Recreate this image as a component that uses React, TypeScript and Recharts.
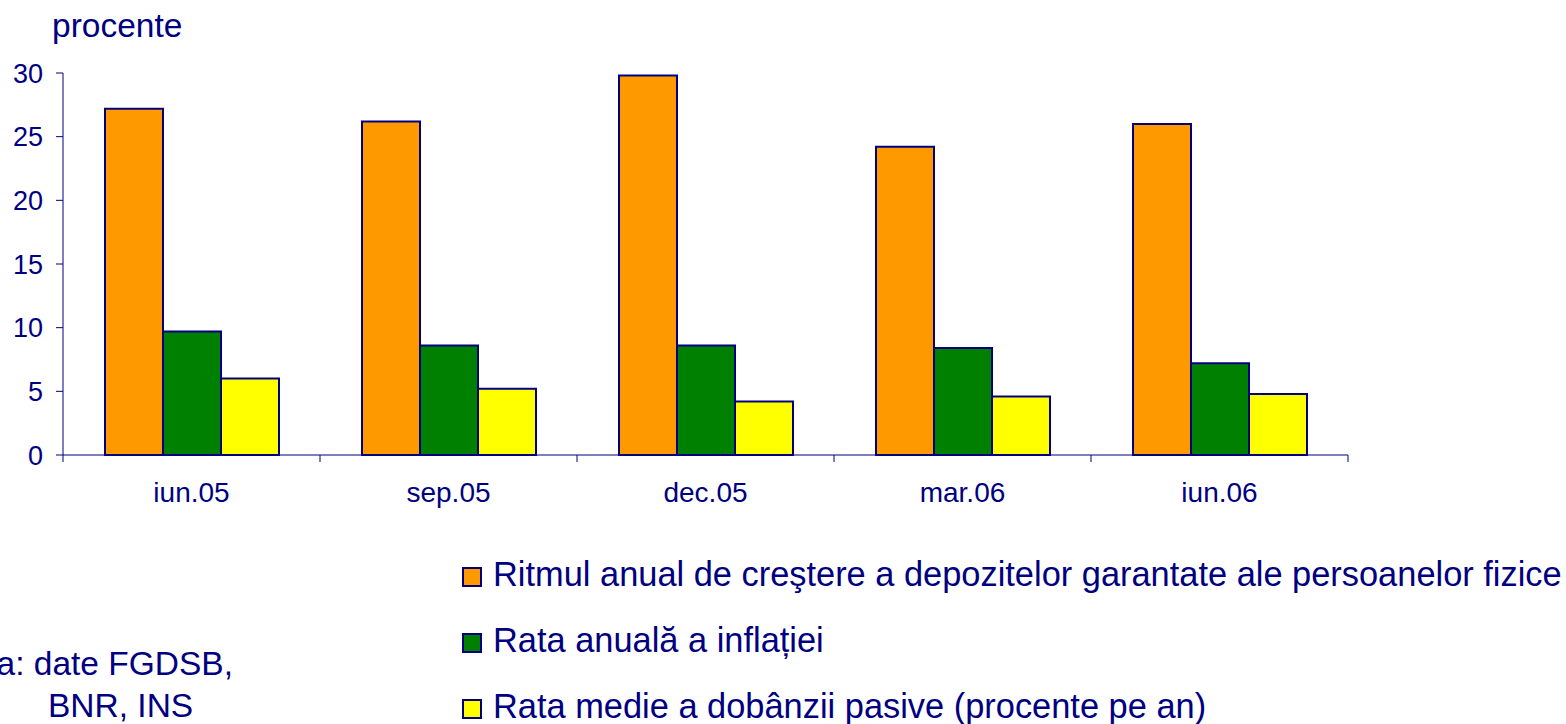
import { Bar, BarChart, XAxis, YAxis } from "recharts";

const NAVY = "#000080";
const FONT = "'Liberation Sans', Arial, sans-serif";

const categories = ["iun.05", "sep.05", "dec.05", "mar.06", "iun.06"];
const depositGrowth = [27.2, 26.2, 29.8, 24.2, 26.0];
const inflation = [9.7, 8.6, 8.6, 8.4, 7.2];
const interestRate = [6.0, 5.2, 4.2, 4.6, 4.8];
const yTicks = [0, 5, 10, 15, 20, 25, 30];

const series = [
  { key: "growth", name: "Ritmul anual de creştere a depozitelor garantate ale persoanelor fizice", color: "#FF9900" },
  { key: "inflation", name: "Rata anuală a inflației", color: "#008000" },
  { key: "rate", name: "Rata medie a dobânzii pasive (procente pe an)", color: "#FFFF00" },
];

const data = categories.map((cat, i) => ({
  cat,
  growth: depositGrowth[i],
  inflation: inflation[i],
  rate: interestRate[i],
}));

const W = 1566;
const H = 724;
const M = { top: 73, right: 218, bottom: 229, left: 0 };
const Y_AXIS_W = 63;
const X_AXIS_H = 40;
const BAND = (W - M.right - M.left - Y_AXIS_W) / categories.length;

function CategoryTick(props: any) {
  const { x, y, payload, index } = props;
  const half = BAND / 2;
  return (
    <g>
      {index === 0 && <line x1={x - half} x2={x - half} y1={y} y2={y + 7} stroke={NAVY} />}
      <line x1={x + half} x2={x + half} y1={y} y2={y + 7} stroke={NAVY} />
      <text x={x} y={y + 47} textAnchor="middle" fill={NAVY} fontSize={28} fontFamily={FONT}>
        {payload.value}
      </text>
    </g>
  );
}

export default function App() {
  return (
    <div style={{ position: "absolute", left: 0, top: 0, width: W, height: H, overflow: "hidden", background: "#fff" }}>
      <BarChart width={W} height={H} data={data} margin={M} barCategoryGap={42} barGap={0}>
        <XAxis
          dataKey="cat"
          height={X_AXIS_H}
          tickSize={0}
          tickMargin={0}
          tickLine={false}
          axisLine={{ stroke: NAVY }}
          tick={<CategoryTick />}
          interval={0}
        />
        <YAxis
          width={Y_AXIS_W}
          domain={[0, 30]}
          ticks={yTicks}
          interval={0}
          tickSize={7}
          tickMargin={13}
          axisLine={{ stroke: NAVY }}
          tickLine={{ stroke: NAVY }}
          tick={{ fill: NAVY, fontSize: 27, fontFamily: FONT }}
        />
        {series.map((s) => (
          <Bar
            key={s.key}
            dataKey={s.key}
            name={s.name}
            fill={s.color}
            stroke={NAVY}
            strokeWidth={2}
            isAnimationActive={false}
          />
        ))}
      </BarChart>
      <svg width={W} height={H} style={{ position: "absolute", left: 0, top: 0, pointerEvents: "none" }}>
        <text x={52} y={37} fill={NAVY} fontSize={33.5} fontFamily={FONT}>
          procente
        </text>
        {series.map((s, i) => (
          <g key={s.key}>
            <rect x={463} y={568 + i * 66} width={18} height={18} fill={s.color} stroke={NAVY} strokeWidth={2} />
            <text x={493} y={586 + i * 66} fill={NAVY} fontSize={34.4} fontFamily={FONT}>
              {s.name}
            </text>
          </g>
        ))}
        <text x={233} y={675} textAnchor="end" fill={NAVY} fontSize={33.5} fontFamily={FONT}>
          Sursa: date FGDSB,
        </text>
        <text x={48} y={717} fill={NAVY} fontSize={33.5} fontFamily={FONT}>
          BNR, INS
        </text>
      </svg>
    </div>
  );
}
